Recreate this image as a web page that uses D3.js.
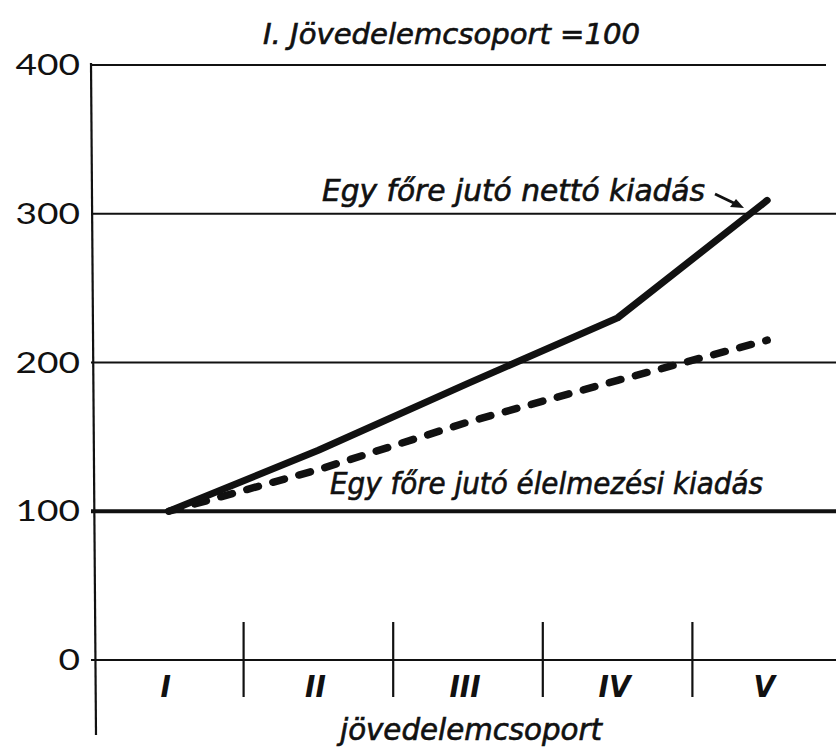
<!DOCTYPE html>
<html>
<head>
<meta charset="utf-8">
<script src="https://cdn.jsdelivr.net/npm/d3@7"></script>
<style>
  html, body { margin: 0; padding: 0; background: #fff; }
  svg { display: block; }
</style>
</head>
<body>
<svg id="chart" width="836" height="751"></svg>
<script>
// ---- data ----
const categories = ["I", "II", "III", "IV", "V"];
const nettoKiadas = [100, 141, 186, 230, 309];      // Egy főre jutó nettó kiadás
const elelmezesiKiadas = [100, 128, 160, 188, 215]; // Egy főre jutó élelmezési kiadás
const yTicks = [0, 100, 200, 300, 400];
const titleText = "I. Jövedelemcsoport =100";
const xTitle = "jövedelemcsoport";
const label1 = "Egy főre jutó nettó kiadás";
const label2 = "Egy főre jutó élelmezési kiadás";

const svg = d3.select("#chart");
const ink = "#111";

const x = d3.scaleBand().domain(categories).range([94, 842]);
const y = d3.scaleLinear().domain([0, 400]).range([660, 65]);

const textFont = "'DejaVu Sans Condensed', 'DejaVu Sans', sans-serif";

// grid lines
svg.append("g").selectAll("line").data(yTicks).join("line")
  .attr("x1", 91)
  .attr("x2", d => d === 400 ? 826 : 836)
  .attr("y1", d => y(d)).attr("y2", d => y(d))
  .attr("stroke", ink)
  .attr("stroke-width", d => d === 100 ? 4 : 2);

// y axis line
svg.append("line")
  .attr("x1", 91).attr("y1", y(400) - 2)
  .attr("x2", 96).attr("y2", 735)
  .attr("stroke", ink).attr("stroke-width", 2.2);

// y tick labels
svg.append("g").selectAll("text").data(yTicks).join("text")
  .attr("x", 80)
  .attr("y", d => y(d))
  .attr("dy", "0.36em")
  .attr("text-anchor", "end")
  .attr("font-family", "Lato, 'DejaVu Sans', sans-serif")
  .attr("font-size", 28)
  .attr("font-weight", 400)
  .attr("fill", ink)
  .attr("textLength", d => String(d).length * 21.5)
  .attr("lengthAdjust", "spacingAndGlyphs")
  .text(d => d);

// category dividers
const dividers = categories.slice(1).map(c => x(c));
svg.append("g").selectAll("line").data(dividers).join("line")
  .attr("x1", d => d).attr("x2", d => d)
  .attr("y1", 622).attr("y2", 697)
  .attr("stroke", ink).attr("stroke-width", 2.2);

// category labels
svg.append("g").selectAll("text").data(categories).join("text")
  .attr("x", d => x(d) + x.bandwidth() / 2 - 3)
  .attr("y", 697)
  .attr("text-anchor", "middle")
  .attr("font-family", textFont)
  .attr("font-style", "italic")
  .attr("font-weight", "bold")
  .attr("font-size", 31)
  .attr("fill", ink)
  .text(d => d);

// lines
const line = d3.line()
  .x((d, i) => x(categories[i]) + x.bandwidth() / 2)
  .y(d => y(d));

svg.append("path")
  .datum(elelmezesiKiadas)
  .attr("d", line)
  .attr("fill", "none")
  .attr("stroke", ink)
  .attr("stroke-width", 7.5)
  .attr("stroke-linecap", "round")
  .attr("stroke-dasharray", "12 15");

svg.append("path")
  .datum(nettoKiadas)
  .attr("d", line)
  .attr("fill", "none")
  .attr("stroke", ink)
  .attr("stroke-width", 7)
  .attr("stroke-linecap", "round")
  .attr("stroke-linejoin", "round");

function label(txt, xx, yy, size, len) {
  svg.append("text")
    .attr("x", xx).attr("y", yy)
    .attr("font-family", textFont)
    .attr("font-style", "italic")
    .attr("font-size", size)
    .attr("fill", ink)
    .attr("stroke", ink)
    .attr("stroke-width", 0.6)
    .attr("textLength", len)
    .attr("lengthAdjust", "spacingAndGlyphs")
    .text(txt);
}

// title
label(titleText, 263, 44, 29, 377);

// annotation 1
label(label1, 322, 201, 30, 383);

// arrow
svg.append("path")
  .attr("d", "M715,194 L738,205")
  .attr("stroke", ink).attr("stroke-width", 3).attr("fill", "none");
svg.append("path")
  .attr("d", "M744,208 L730,207 L736,199 Z")
  .attr("fill", ink);

// annotation 2
label(label2, 330, 494, 30, 433);

// x axis title
label(xTitle, 340, 740, 30, 262);
</script>
</body>
</html>
